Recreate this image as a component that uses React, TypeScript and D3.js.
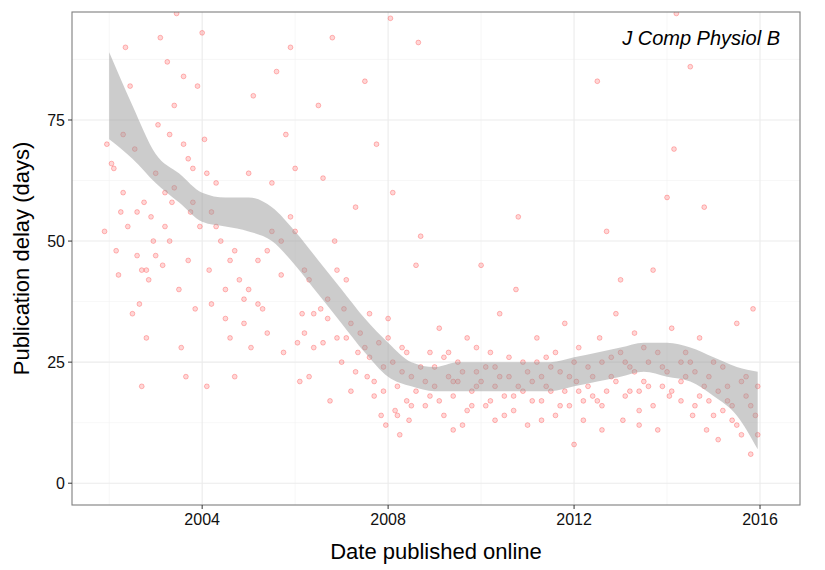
import * as d3 from "d3";

// [date (decimal year), delay (days)]
const points: [number, number][] = [
  [2001.9, 52], [2001.95, 70], [2002.05, 66], [2002.1, 65], [2002.15, 48], [2002.2, 43], [2002.25, 56],
  [2002.3, 72], [2002.35, 90], [2002.4, 53], [2002.45, 82], [2002.5, 35], [2002.55, 69], [2002.6, 47],
  [2002.65, 37], [2002.7, 20], [2002.75, 58], [2002.8, 30], [2002.85, 42], [2002.9, 55], [2002.95, 50],
  [2003.0, 64], [2003.05, 74], [2003.1, 92], [2003.15, 45], [2003.2, 60], [2003.25, 87], [2003.3, 72],
  [2003.35, 58], [2003.4, 78], [2003.45, 97], [2003.5, 40], [2003.55, 28], [2003.6, 84], [2003.65, 22],
  [2003.7, 46], [2003.75, 56], [2003.8, 65], [2003.85, 36], [2003.9, 82], [2003.95, 53], [2004.0, 93],
  [2004.05, 71], [2004.1, 20], [2004.15, 44], [2004.2, 37], [2004.3, 62], [2004.4, 50], [2004.5, 34],
  [2004.6, 30], [2004.7, 22], [2004.8, 42], [2004.9, 38], [2005.0, 64], [2005.05, 28], [2005.1, 80],
  [2005.2, 46], [2005.3, 36], [2005.4, 31], [2005.5, 62], [2005.6, 85], [2005.7, 50], [2005.75, 27],
  [2005.8, 72], [2005.9, 90], [2006.0, 65], [2006.05, 29], [2006.1, 21], [2006.15, 35], [2006.2, 44],
  [2006.3, 22], [2006.4, 28], [2006.5, 78], [2006.55, 36], [2006.6, 63], [2006.7, 34], [2006.75, 17],
  [2006.8, 92], [2006.85, 50], [2006.9, 30], [2007.0, 25], [2007.05, 36], [2007.1, 42], [2007.2, 19],
  [2007.3, 57], [2007.35, 27], [2007.4, 31], [2007.5, 83], [2007.55, 22], [2007.6, 35], [2007.7, 18],
  [2007.75, 70], [2007.8, 29], [2007.85, 14], [2007.9, 24], [2007.95, 12], [2008.0, 34], [2008.05, 96],
  [2008.1, 60], [2008.15, 15], [2008.2, 20], [2008.25, 10], [2008.3, 28], [2008.4, 17], [2008.45, 13],
  [2008.5, 22], [2008.6, 45], [2008.65, 91], [2008.7, 51], [2008.8, 16], [2008.9, 27], [2009.0, 20],
  [2009.1, 32], [2009.2, 14], [2009.3, 22], [2009.4, 18], [2009.5, 25], [2009.6, 12], [2009.7, 30],
  [2009.8, 19], [2009.9, 23], [2010.0, 45], [2010.1, 16], [2010.2, 27], [2010.3, 20], [2010.4, 35],
  [2010.5, 14], [2010.6, 22], [2010.7, 18], [2010.75, 40], [2010.8, 55], [2010.9, 25], [2011.0, 12],
  [2011.1, 21], [2011.2, 30], [2011.3, 17], [2011.4, 26], [2011.5, 19], [2011.6, 14], [2011.7, 23],
  [2011.8, 33], [2011.9, 16], [2012.0, 8], [2012.05, 21], [2012.1, 28], [2012.2, 13], [2012.3, 24],
  [2012.4, 18], [2012.5, 83], [2012.55, 30], [2012.6, 16], [2012.7, 52], [2012.8, 22], [2012.9, 35],
  [2013.0, 42], [2013.05, 13], [2013.1, 25], [2013.2, 19], [2013.3, 31], [2013.4, 15], [2013.5, 28],
  [2013.6, 20], [2013.7, 44], [2013.8, 11], [2013.9, 24], [2014.0, 59], [2014.05, 18], [2014.1, 32],
  [2014.15, 69], [2014.2, 97], [2014.3, 21], [2014.4, 27], [2014.5, 86], [2014.55, 14], [2014.6, 23],
  [2014.7, 30], [2014.8, 57], [2014.85, 11], [2014.9, 17], [2015.0, 25], [2015.1, 9], [2015.2, 15],
  [2015.3, 20], [2015.4, 13], [2015.5, 33], [2015.6, 10], [2015.7, 18], [2015.8, 6], [2015.85, 36],
  [2015.9, 14], [2015.95, 20], [2002.3, 60], [2002.8, 44], [2003.3, 50], [2003.7, 67], [2004.2, 56],
  [2004.6, 46], [2005.0, 40], [2005.4, 48], [2005.9, 55], [2006.3, 42], [2006.7, 38], [2007.2, 33],
  [2007.6, 26], [2008.3, 23], [2008.8, 21], [2009.3, 27], [2009.8, 16], [2010.3, 24], [2010.8, 20],
  [2011.3, 22], [2011.8, 19], [2012.3, 20], [2012.8, 26], [2013.3, 23], [2013.8, 27], [2014.3, 25],
  [2014.8, 20], [2015.3, 17], [2015.7, 22], [2009.5, 21], [2010.5, 18], [2011.5, 24], [2012.5, 17],
  [2013.5, 21], [2008.6, 19], [2009.9, 20], [2011.0, 23], [2012.1, 19], [2013.1, 18], [2014.6, 16],
  [2002.6, 56], [2002.7, 44], [2003.0, 47], [2003.2, 53], [2003.4, 61], [2003.6, 70], [2003.8, 58],
  [2004.1, 64], [2004.3, 53], [2004.5, 40], [2004.7, 48], [2004.9, 33], [2005.2, 37], [2005.5, 52],
  [2005.7, 43], [2006.0, 52], [2006.2, 31], [2006.4, 35], [2006.6, 29], [2006.9, 44], [2007.1, 30],
  [2007.3, 23], [2007.5, 28], [2007.7, 21], [2007.9, 19], [2008.0, 30], [2008.1, 25], [2008.2, 14],
  [2008.4, 27], [2008.5, 16], [2008.7, 24], [2008.9, 18], [2009.0, 24], [2009.1, 17], [2009.2, 26],
  [2009.4, 21], [2009.6, 23], [2009.7, 15], [2009.9, 28], [2010.0, 21], [2010.1, 24], [2010.2, 17],
  [2010.4, 22], [2010.6, 26], [2010.7, 15], [2010.9, 19], [2011.1, 17], [2011.2, 25], [2011.4, 20],
  [2011.6, 27], [2011.7, 16], [2011.9, 22], [2012.0, 25], [2012.2, 17], [2012.4, 22], [2012.6, 25],
  [2012.7, 19], [2012.9, 21], [2013.0, 27], [2013.2, 24], [2013.4, 19], [2013.6, 25], [2013.7, 16],
  [2013.9, 20], [2014.0, 23], [2014.1, 19], [2014.3, 17], [2014.4, 22], [2014.5, 25], [2014.7, 18],
  [2014.9, 22], [2015.0, 14], [2015.1, 19], [2015.2, 24], [2015.4, 16], [2015.5, 12], [2015.6, 21],
  [2015.8, 16], [2015.95, 10], [2011.3, 13], [2012.6, 11], [2013.4, 12], [2010.3, 13], [2009.4, 11],
];

const bandYears = [2002, 2002.5, 2003, 2003.5, 2004, 2004.5, 2005, 2005.5, 2006, 2006.5, 2007, 2007.5, 2008, 2008.5, 2009, 2009.5, 2010, 2010.5, 2011, 2011.5, 2012, 2012.5, 2013, 2013.5, 2014, 2014.5, 2015, 2015.5, 2015.95];
const bandLow = [71, 67, 62, 58, 54, 53, 52, 50, 45, 39, 33, 27, 22, 20, 19, 19, 19, 19, 19, 19, 20, 21, 22, 23, 22, 21, 18, 14, 7];
const bandHigh = [89, 78, 68, 64, 60, 59, 59, 57, 52, 46, 40, 34, 29, 25, 24, 25, 25, 25, 25, 25, 26, 27, 28, 29, 29, 28, 26, 24, 23];

const xMajor = [2004, 2008, 2012, 2016];
const xMinor = [2002, 2006, 2010, 2014];
const yMajor = [0, 25, 50, 75];
const yMinor = [12.5, 37.5, 62.5, 87.5];

const W = 825, H = 570;
const L = 72, R = 800, T = 12, B = 505;

export default function App() {
  const x = d3.scaleLinear().domain([2001.2, 2016.86]).range([L, R]);
  const y = d3.scaleLinear().domain([-4.5, 97.3]).range([B, T]);
  const band = d3.area<number>()
    .x((_, i) => x(bandYears[i]))
    .y0((_, i) => y(bandLow[i]))
    .y1((_, i) => y(bandHigh[i]))
    .curve(d3.curveMonotoneX);
  const font = "Liberation Sans, Arial, sans-serif";
  return (
    <svg width={W} height={H} style={{ position: "absolute", left: 0, top: 0 }} fontFamily={font}>
      <rect x={0} y={0} width={W} height={H} fill="#fff" />
      <defs>
        <clipPath id="panel"><rect x={L} y={T} width={R - L} height={B - T} /></clipPath>
      </defs>
      {xMinor.map((v) => <line key={"xm" + v} x1={x(v)} x2={x(v)} y1={T} y2={B} stroke="#f2f2f2" strokeWidth={0.6} />)}
      {yMinor.map((v) => <line key={"ym" + v} x1={L} x2={R} y1={y(v)} y2={y(v)} stroke="#f2f2f2" strokeWidth={0.6} />)}
      {xMajor.map((v) => <line key={"xM" + v} x1={x(v)} x2={x(v)} y1={T} y2={B} stroke="#ebebeb" strokeWidth={1.1} />)}
      {yMajor.map((v) => <line key={"yM" + v} x1={L} x2={R} y1={y(v)} y2={y(v)} stroke="#ebebeb" strokeWidth={1.1} />)}
      <g clipPath="url(#panel)">
        {points.map(([d, v], i) => (
          <circle key={i} cx={x(d)} cy={y(v)} r={2.4} fill="#ff0000" fillOpacity={0.16} stroke="#ff0000" strokeOpacity={0.32} strokeWidth={0.8} />
        ))}
        <path d={band(bandYears) ?? ""} fill="#999999" fillOpacity={0.5} />
      </g>
      <rect x={L} y={T} width={R - L} height={B - T} fill="none" stroke="#7f7f7f" strokeWidth={1.1} />
      {xMajor.map((v) => (
        <g key={"xt" + v}>
          <line x1={x(v)} x2={x(v)} y1={B} y2={B + 4} stroke="#333" />
          <text x={x(v)} y={B + 20} textAnchor="middle" fontSize={16} fill="#111">{v}</text>
        </g>
      ))}
      {yMajor.map((v) => (
        <g key={"yt" + v}>
          <line x1={L - 4} x2={L} y1={y(v)} y2={y(v)} stroke="#333" />
          <text x={L - 7} y={y(v) + 6} textAnchor="end" fontSize={16} fill="#111">{v}</text>
        </g>
      ))}
      <text x={(L + R) / 2} y={559} textAnchor="middle" fontSize={22} fill="#000">Date published online</text>
      <text transform={`translate(29,${(T + B) / 2}) rotate(-90)`} textAnchor="middle" fontSize={22} fill="#000">Publication delay (days)</text>
      <text x={780} y={45} textAnchor="end" fontSize={20} fontStyle="italic" fill="#000">J Comp Physiol B</text>
    </svg>
  );
}
